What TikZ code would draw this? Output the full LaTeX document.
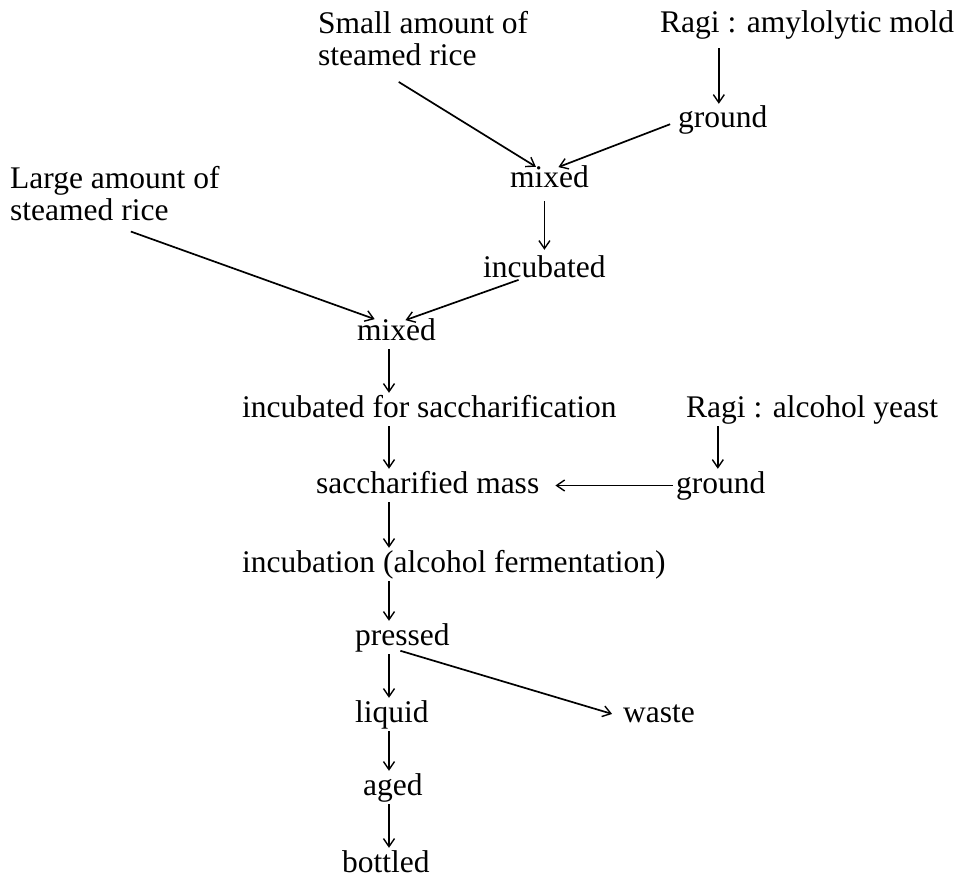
\documentclass[tikz,border=0pt]{standalone}
\usepackage{fontspec}
\setmainfont{Liberation Serif}
\usetikzlibrary{arrows.meta}
\begin{document}
\begin{tikzpicture}[x=1pt,y=-1pt,
  lbl/.style={inner sep=0pt, anchor=base west, text height=22pt, text depth=7pt,
              font=\fontsize{31.5}{32}\selectfont},
  multi/.style={inner sep=0pt, anchor=north west, align=left,
              font=\fontsize{31.5}{32}\selectfont},
  flow/.style={line width=1.7pt, -{Straight Barb[length=8pt,width=11pt,line width=1.4pt]},
              shorten <=2pt, shorten >=2pt},
]
\fill[white] (0,0) rectangle (958,877);
\useasboundingbox (0,0) rectangle (958,877);

% process steps
\node[multi] (small) at (318,11) {Small amount of\\steamed rice};
\node[lbl] (ragiA) at (660,33) {Ragi : amylolytic mold};
\node[lbl] (groundA) at (678,128) {ground};
\node[lbl] (mixA) at (510,188) {mixed};
\node[lbl] (incA) at (483,278) {incubated};
\node[multi] (large) at (10,166) {Large amount of\\steamed rice};
\node[lbl] (mixB) at (357,340) {mixed};
\node[lbl] (incS) at (242,417) {incubated for saccharification};
\node[lbl] (ragiB) at (686,417) {Ragi : alcohol yeast};
\node[lbl] (sacc) at (316,493) {saccharified mass};
\node[lbl] (groundB) at (676,493) {ground};
\node[lbl] (incF) at (242,572) {incubation (alcohol fermentation)};
\node[lbl] (pressed) at (355,645) {pressed};
\node[lbl] (liquid) at (355,722) {liquid};
\node[lbl] (waste) at (623,722) {waste};
\node[lbl] (aged) at (363,795) {aged};
\node[lbl] (bottled) at (342,872) {bottled};

% vertical guide lines for the arrows
\coordinate (col) at (389,0);
\coordinate (cA) at ([xshift=-4pt]groundA.north);
\coordinate (cB) at ([xshift=-3pt]groundB.north);

% mold starter branch
\draw[flow, shorten <=8pt] (cA |- ragiA.south) -- (cA);
\draw[flow] ([xshift=79pt,yshift=-15pt]small.south west) -- ([xshift=-12pt,yshift=-2pt]mixA.north);
\draw[flow] ([xshift=-6pt,yshift=-3pt]groundA.west) -- ([xshift=7pt,yshift=-2pt]mixA.north);
\draw[flow, shorten <=6pt, shorten >=6pt] (mixA.south -| incA.north) -- (incA.north);
\draw[flow] ([xshift=119pt,yshift=-10pt]large.south west) -- ([xshift=-20pt,yshift=-2pt]mixB.north);
\draw[flow] ([xshift=-24pt,yshift=6pt]incA.south) -- ([xshift=7pt,yshift=-3pt]mixB.north);

% main line
\draw[flow] (mixB.south -| col) -- (incS.north -| col);
\draw[flow] (incS.south -| col) -- (sacc.north -| col);
\draw[flow] (sacc.south -| col) -- (incF.north -| col);
\draw[flow] (incF.south -| col) -- (pressed.north -| col);
\draw[flow] (pressed.south -| col) -- (liquid.north -| col);
\draw[flow] (liquid.south -| col) -- (aged.north -| col);
\draw[flow] (aged.south -| col) -- (bottled.north -| col);

% yeast branch
\draw[flow] (cB |- ragiB.south) -- (cB);
\draw[flow, shorten <=3pt, shorten >=16pt] (groundB.west) -- (groundB.west -| sacc.east);

% pressing residue
\draw[flow] ([xshift=-4pt,yshift=2pt]pressed.south) -- ([xshift=-9pt]waste.west);
\end{tikzpicture}
\end{document}
